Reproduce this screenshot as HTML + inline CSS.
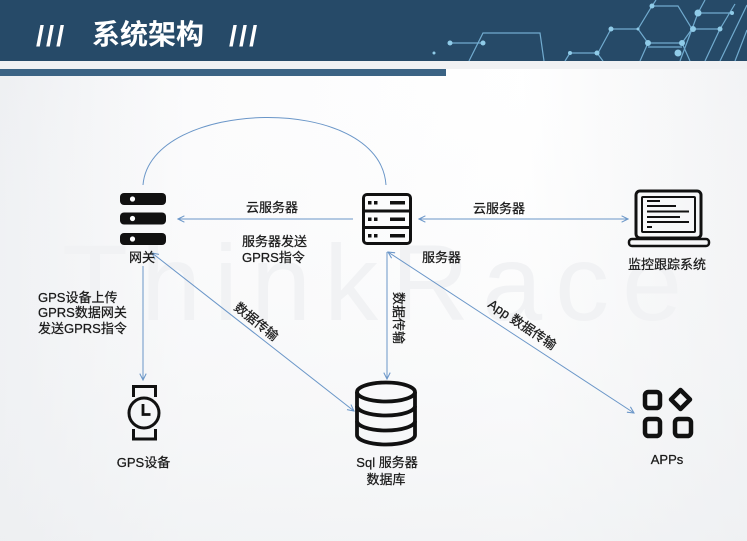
<!DOCTYPE html>
<html><head><meta charset="utf-8"><style>
html,body{margin:0;padding:0;width:747px;height:541px;overflow:hidden;}
body{background:#fff;}
svg{display:block;}
text{font-family:"Liberation Sans","Noto Sans CJK SC",sans-serif;}
</style></head><body>
<svg width="747" height="541" viewBox="0 0 747 541" xmlns="http://www.w3.org/2000/svg">
<defs>
<linearGradient id="bgx" x1="0" y1="0" x2="1" y2="0">
<stop offset="0" stop-color="#eceef1"/><stop offset="0.25" stop-color="#fbfbfc"/><stop offset="0.7" stop-color="#ffffff"/><stop offset="1" stop-color="#f1f2f4"/>
</linearGradient>
<linearGradient id="bgy" x1="0" y1="0" x2="0" y2="1">
<stop offset="0" stop-color="#ffffff" stop-opacity="0"/><stop offset="1" stop-color="#eef0f2" stop-opacity="0.7"/>
</linearGradient>
<marker id="ah" viewBox="0 0 10 10" refX="9" refY="5" markerWidth="8" markerHeight="8" orient="auto-start-reverse" markerUnits="userSpaceOnUse">
<path d="M1,1 L9,5 L1,9" fill="none" stroke="#6a96c8" stroke-width="1.3"/>
</marker>
</defs>
<rect width="747" height="541" fill="url(#bgx)"/>
<rect width="747" height="541" fill="url(#bgy)"/>
<!-- header -->
<rect x="0" y="0" width="747" height="61" fill="#264a68"/>
<rect x="0" y="61" width="747" height="8" fill="#f0f1f3"/>
<rect x="0" y="69" width="446" height="7" fill="#3b6384"/>
<text x="36" y="46" font-size="29" font-weight="bold" letter-spacing="2" fill="#fff">///</text>
<text x="92" y="44" font-size="28" font-weight="bold" fill="#fff">系统架构</text>
<text x="229" y="46" font-size="29" font-weight="bold" letter-spacing="2" fill="#fff">///</text>
<!-- hex decoration -->
<g stroke="#7fbde2" stroke-width="1.2" fill="none" opacity="0.85">
<path d="M469,61 L483,33 L540,33 L544,61"/>
<path d="M450,43 L483,43"/>
<path d="M565,61 L570,53 L597,53 L603,61"/>
<path d="M611,29 L638,29 L652,6 L678,6 L692,29 L682,43 L648,43 L638,29"/>
<path d="M648,47 L682,47"/>
<path d="M640,61 L648,43 M682,43 L690,61"/>
<path d="M598,53 L611,29 M652,6 L656,0"/>
<path d="M692,29 L720,29 L735,4 M698,13 L732,13 M698,13 L680,61 M720,29 L705,61 M747,5 L720,61 M747,30 L735,61 M692,29 L698,13 L705,0"/>
</g>
<g fill="#8fcbe8">
<circle cx="450" cy="43" r="2.5"/><circle cx="483" cy="43" r="2.5"/><circle cx="434" cy="53" r="1.5"/>
<circle cx="570" cy="53" r="2"/><circle cx="597" cy="53" r="2.5"/>
<circle cx="611" cy="29" r="2.5"/><circle cx="638" cy="29" r="1.5"/><circle cx="652" cy="6" r="2.5"/>
<circle cx="648" cy="43" r="3"/><circle cx="682" cy="43" r="3"/><circle cx="678" cy="53" r="3.5"/>
<circle cx="698" cy="13" r="3.5"/><circle cx="720" cy="29" r="2.5"/><circle cx="693" cy="29" r="3"/><circle cx="732" cy="13" r="2"/>
</g>
<!-- watermark -->
<text x="62" y="320" font-size="108" letter-spacing="13" fill="#f1f2f4">ThinkRace</text>
<!-- connectors -->
<g stroke="#6a96c8" stroke-width="1" fill="none">
<path d="M143,185 C150,98 380,92 386,185"/>
<line x1="353" y1="219" x2="178" y2="219" marker-end="url(#ah)"/>
<line x1="419" y1="219" x2="628" y2="219" marker-start="url(#ah)" marker-end="url(#ah)"/>
<line x1="143" y1="266" x2="143" y2="380" marker-end="url(#ah)"/>
<line x1="152" y1="253" x2="354" y2="411" marker-start="url(#ah)" marker-end="url(#ah)"/>
<line x1="387" y1="252" x2="387" y2="379" marker-end="url(#ah)"/>
<line x1="388" y1="252" x2="634" y2="413" marker-start="url(#ah)" marker-end="url(#ah)"/>
</g>
<!-- gateway icon -->
<g>
<rect x="120" y="193" width="46" height="12" rx="4" fill="#111"/>
<rect x="120" y="212.5" width="46" height="12" rx="4" fill="#111"/>
<rect x="120" y="233" width="46" height="12" rx="4" fill="#111"/>
<circle cx="132.5" cy="199" r="2.6" fill="#fff"/>
<circle cx="132.5" cy="218.5" r="2.6" fill="#fff"/>
<circle cx="132.5" cy="239" r="2.6" fill="#fff"/>
</g>
<!-- server icon -->
<g fill="none" stroke="#111" stroke-width="3">
<rect x="363.5" y="194.5" width="47" height="49" rx="3.5"/>
<line x1="363.5" y1="211" x2="410.5" y2="211"/>
<line x1="363.5" y1="227.5" x2="410.5" y2="227.5"/>
</g>
<g fill="#111">
<rect x="368" y="201" width="3.5" height="3.5"/><rect x="374" y="201" width="3.5" height="3.5"/><rect x="390" y="201" width="15" height="3.5"/>
<rect x="368" y="217.5" width="3.5" height="3.5"/><rect x="374" y="217.5" width="3.5" height="3.5"/><rect x="390" y="217.5" width="15" height="3.5"/>
<rect x="368" y="234" width="3.5" height="3.5"/><rect x="374" y="234" width="3.5" height="3.5"/><rect x="390" y="234" width="15" height="3.5"/>
</g>
<!-- laptop -->
<g fill="none" stroke="#111">
<rect x="636" y="191" width="65" height="47" rx="4" stroke-width="3"/>
<rect x="642" y="197" width="53" height="35" rx="1" stroke-width="2"/>
<rect x="629" y="239" width="80" height="7" rx="3" stroke-width="2.5"/>
</g>
<g stroke="#111" stroke-width="2">
<line x1="647" y1="201" x2="660" y2="201"/>
<line x1="647" y1="206" x2="676" y2="206"/>
<line x1="647" y1="211.5" x2="689" y2="211.5"/>
<line x1="647" y1="217" x2="680" y2="217"/>
<line x1="647" y1="222" x2="689" y2="222"/>
<line x1="647" y1="227" x2="652" y2="227"/>
</g>
<!-- watch -->
<g fill="none" stroke="#111" stroke-width="3">
<path d="M133.5,397 L133.5,386.5 L155.5,386.5 L155.5,397"/>
<path d="M133.5,429 L133.5,439 L155.5,439 L155.5,429"/>
<circle cx="144" cy="413" r="15"/>
<path d="M143,404 V414.5 H150.5" stroke-width="2.8"/>
</g>
<!-- database -->
<g fill="none" stroke="#111" stroke-width="3.8">
<ellipse cx="386" cy="392" rx="29" ry="9.5"/>
<path d="M357,392 V435 M415,392 V435"/>
<path d="M357,406 A29,9.5 0 0 0 415,406"/>
<path d="M357,421 A29,9.5 0 0 0 415,421"/>
<path d="M357,435 A29,9.5 0 0 0 415,435"/>
</g>
<!-- apps -->
<g fill="none" stroke="#111" stroke-width="4.5">
<rect x="645" y="392" width="15" height="16" rx="3.5"/>
<rect x="645" y="419" width="15" height="17" rx="3.5"/>
<rect x="675" y="419" width="16" height="17" rx="3.5"/>
<path d="M680.5,390 L690,399.5 L680.5,409 L671,399.5 Z" stroke-linejoin="round"/>
</g>
<!-- labels -->
<g font-size="13" fill="#1a1a1a" stroke="#1a1a1a" stroke-width="0.25">
<text x="246" y="212">云服务器</text>
<text x="242" y="246">服务器发送</text>
<text x="242" y="262">GPRS指令</text>
<text x="129" y="262">网关</text>
<text x="473" y="213">云服务器</text>
<text x="422" y="262">服务器</text>
<text x="628" y="269">监控跟踪系统</text>
<text x="38" y="302">GPS设备上传</text>
<text x="38" y="317">GPRS数据网关</text>
<text x="38" y="333">发送GPRS指令</text>
<text x="143.5" y="467" text-anchor="middle">GPS设备</text>
<text x="387" y="467" text-anchor="middle">Sql 服务器</text>
<text x="386" y="484" text-anchor="middle">数据库</text>
<text x="667" y="464" text-anchor="middle">APPs</text>
<text transform="translate(256,322) rotate(39)" text-anchor="middle" dy="4">数据传输</text>
<text transform="translate(398,318) rotate(90)" text-anchor="middle" dy="4">数据传输</text>
<text transform="translate(522,325) rotate(34)" text-anchor="middle" dy="4">App 数据传输</text>
</g>
</svg>
</body></html>
